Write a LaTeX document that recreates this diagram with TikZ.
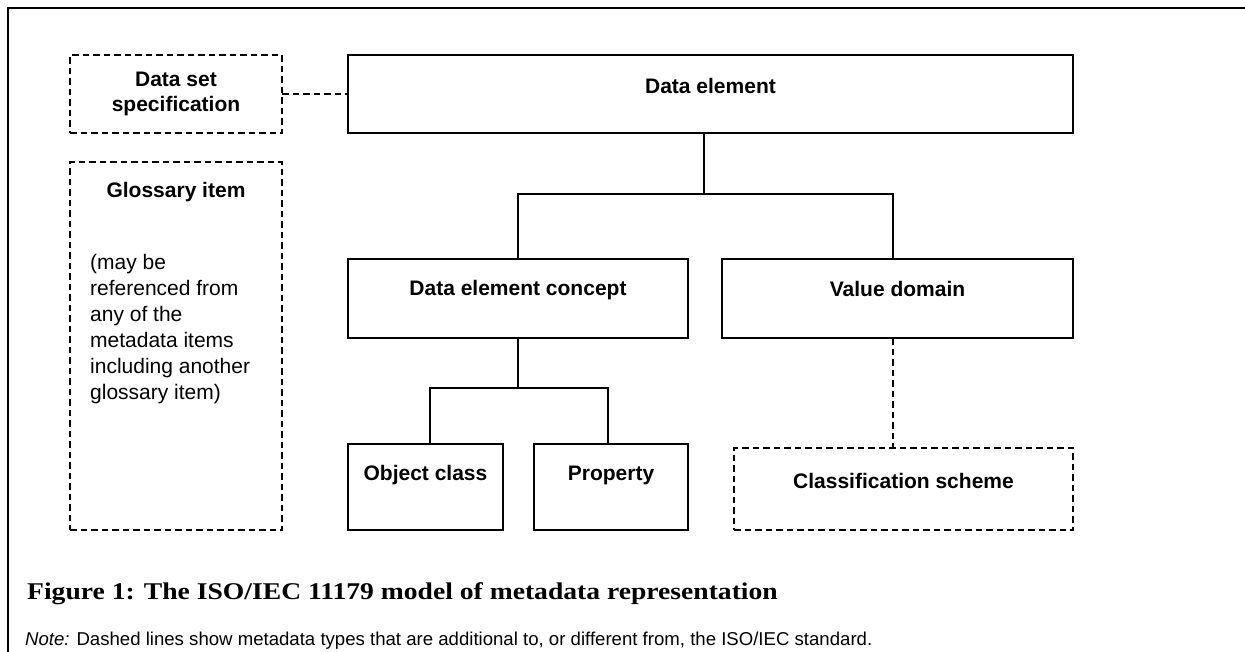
\documentclass[tikz,border=0pt]{standalone}
\usepackage{fontspec}
\setmainfont{Liberation Sans}
\newfontfamily\capfont[FakeStretch=1.15]{Liberation Serif}
\usetikzlibrary{calc}
\begin{document}
\begin{tikzpicture}[x=1pt,y=-1pt,
  solidbox/.style={draw, line width=1.8pt, inner sep=0pt, outer sep=0pt},
  dashbox/.style={solidbox, dash pattern=on 6.5pt off 4pt},
  lab/.style={font=\fontsize{21}{25}\selectfont\bfseries, align=center, inner sep=0pt},
  conn/.style={line width=1.8pt},
  dconn/.style={conn, dash pattern=on 6.5pt off 4pt}]
\useasboundingbox (0,0) rectangle (1245,651);
% outer frame (left and top visible)
\coordinate (fb) at (8,660);
\coordinate (fc) at (8,8);
\coordinate (fr) at (1260,8);
\draw[line width=2pt] (fb) -- (fc) -- (fr);
% boxes
\node[dashbox, minimum width=212pt, minimum height=78pt] (dss) at (176,94) {};
\node[dashbox, minimum width=212pt, minimum height=368pt] (gl) at (176,346) {};
\node[solidbox, minimum width=725pt, minimum height=78pt] (de) at (710.5,94) {};
\node[solidbox, minimum width=340pt, minimum height=79pt] (dec) at (518,298.5) {};
\node[solidbox, minimum width=351pt, minimum height=79pt] (vd) at (897.5,298.5) {};
\node[solidbox, minimum width=155pt, minimum height=86pt] (oc) at (425.5,487) {};
\node[solidbox, minimum width=154pt, minimum height=86pt] (pr) at (611,487) {};
\node[dashbox, minimum width=339pt, minimum height=82pt] (cs) at (903.5,489) {};
% labels
\node[lab] (dsslab) at (dss.center) {Data set\\[-0.5pt]specification};
\node[lab] (gllab) at (176,192) {Glossary item};
\node[anchor=north west, align=left, inner sep=0pt, font=\fontsize{21}{26}\selectfont] (glp) at (90,254)
  {(may be\\referenced from\\any of the\\metadata items\\including another\\glossary item)};
\node[lab] (delab) at ($(de.center)+(0,-8)$) {Data element};
\node[lab] (declab) at ($(dec.center)+(0,-8)$) {Data element concept};
\node[lab] (vdlab) at ($(vd.center)+(0,-10)$) {Value domain};
\node[lab] (oclab) at ($(oc.center)+(0,-12)$) {Object class};
\node[lab] (prlab) at ($(pr.center)+(0,-12)$) {Property};
\node[lab] (cslab) at ($(cs.center)+(0,-8)$) {Classification scheme};
% connectors
\coordinate (j1) at (704,194);
\coordinate (vdc) at (893,298);
\coordinate (j2) at (518,388);
\coordinate (ocx) at (430,487);
\coordinate (prx) at (608,487);
\draw[conn] (de.south -| j1) -- (j1);
\draw[conn] (dec.north) |- (j1) -| (vdc |- vd.north);
\draw[conn] (dec.south) -- (j2);
\draw[conn] (ocx |- oc.north) |- (j2) -| (prx |- pr.north);
\draw[dconn] (dss.east) -- (de.west);
\draw[dconn] (vdc |- vd.south) -- (vdc |- cs.north);
% caption and note
\node[anchor=west, inner sep=0pt, font=\capfont\bfseries\fontsize{24}{28}\selectfont] (cap) at (27,594)
  {Figure 1: The ISO/IEC 11179 model of metadata representation};
\node[anchor=west, inner sep=0pt, font=\fontsize{18.6}{22}\selectfont] (note) at (25,641)
  {\textit{Note:} Dashed lines show metadata types that are additional to, or different from, the ISO/IEC standard.};
\end{tikzpicture}
\end{document}
